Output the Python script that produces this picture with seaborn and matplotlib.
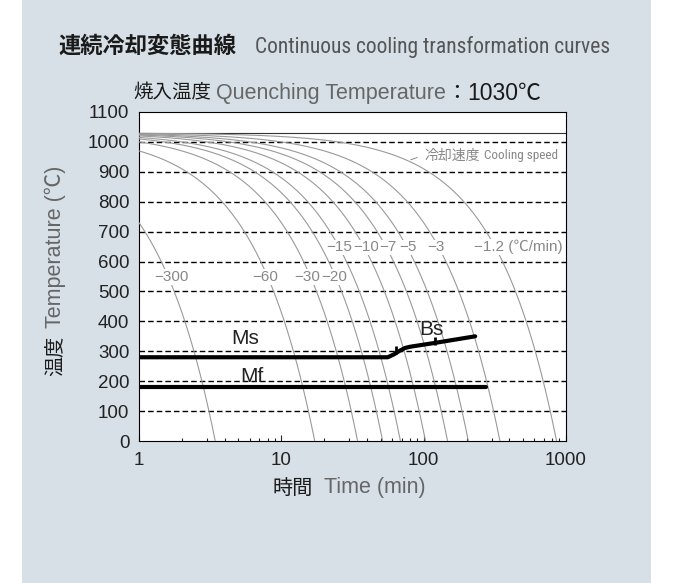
import numpy as np
import pandas as pd
import matplotlib
matplotlib.use("Agg")
import matplotlib.pyplot as plt
from matplotlib.patches import Rectangle
import seaborn as sns

# ---------------- data ----------------
quench_temp = 1030
cooling_rates = [300, 60, 30, 20, 15, 10, 7, 5, 3, 1.2]          # degC/min
rate_labels = ["−300", "−60", "−30", "−20", "−15", "−10", "−7", "−5", "−3", "−1.2 (℃/min)"]
rate_label_t = [1.70, 7.7, 15.1, 23.5, 25.6, 39.4, 55.6, 77.3, 122, 463]
rate_label_T = [548, 548, 548, 548, 648, 648, 648, 648, 648, 648]

ms_t = [1, 56, 62, 68, 74, 80, 120, 230]
ms_T = [280, 280, 290, 302, 311, 315, 328, 350]
bs_tick_t = [64, 120]
bs_tick_T = [303, 335]
mf_t = [1, 273]
mf_T = [180, 180]

y_ticks = [0, 100, 200, 300, 400, 500, 600, 700, 800, 900, 1000, 1100]
x_ticks = [1, 10, 100, 1000]
x_ticklabels = ["1", "10", "100", "1000"]

# ---------------- style ----------------
sns.set_theme(style="white")
CJK = "Noto Sans CJK JP"
LAT = "Liberation Sans"
COND = ["Roboto Condensed", "Liberation Sans Narrow", "Roboto", "DejaVu Sans"]
plt.rcParams["font.family"] = [LAT, CJK, "DejaVu Sans"]

W, H = 674, 583
fig = plt.figure(figsize=(W / 100, H / 100), dpi=100, facecolor="white")
fig.patches.append(Rectangle((22 / W, 0), (651 - 22) / W, 1, transform=fig.transFigure,
                             facecolor="#d7e0e7", edgecolor="none", zorder=-10))

ax = fig.add_axes([139 / W, 1 - 441 / H, (566 - 139) / W, (441 - 112) / H])
ax.set_facecolor("white")
ax.set_xscale("log")
ax.set_xlim(1, 1000)
ax.set_ylim(0, 1100)

# grid lines
for yv in y_ticks[1:-1]:
    ax.axhline(yv, color="black", lw=1.0, ls=(0, (4, 2.2)), zorder=1)
ax.axhline(quench_temp, color="#333333", lw=0.8, zorder=2)

# cooling curves (constant cooling rate from quench temperature)
for r in cooling_rates:
    t_end = quench_temp / r
    t = np.geomspace(1, t_end, 400)
    df = pd.DataFrame({"t": t, "T": quench_temp - r * t})
    sns.lineplot(data=df, x="t", y="T", color="#9a9a9a", lw=0.8, ax=ax,
                 estimator=None, sort=False, zorder=3)

# Ms, Mf lines
sns.lineplot(x=ms_t, y=ms_T, color="black", lw=3.0, ax=ax, estimator=None, sort=False, zorder=5)
sns.lineplot(x=mf_t, y=mf_T, color="black", lw=3.0, ax=ax, estimator=None, sort=False, zorder=5)
ax.plot(bs_tick_t, bs_tick_T, ls="none", marker="|", ms=6, mew=2.0, color="black", zorder=6)

# labels inside
ax.text(5.56, 343, "Ms", fontsize=15, color="#222222", ha="center", va="center", zorder=7)
ax.text(114, 373, "Bs", fontsize=15, color="#222222", ha="center", va="center", zorder=7)
ax.text(6.19, 214, "Mf", fontsize=15, color="#222222", ha="center", va="center", zorder=7)
for lab, tx, ty in zip(rate_labels, rate_label_t, rate_label_T):
    ax.text(tx, ty, lab, fontsize=11, color="#888888", ha="center", va="center",
            family=[LAT, CJK], zorder=7,
            bbox=dict(facecolor="white", edgecolor="none", pad=0.4))

ax.annotate("", xy=(77.7, 937), xytext=(94, 951),
            arrowprops=dict(arrowstyle="-", color="#888888", lw=0.7))

# ticks & spines
ax.set_yticks(y_ticks)
ax.set_yticklabels([str(v) for v in y_ticks])
ax.set_xticks(x_ticks)
ax.set_xticklabels(x_ticklabels)
ax.tick_params(axis="y", length=0, pad=7, labelsize=13.5, labelcolor="#222222")
ax.tick_params(axis="x", which="major", direction="in", length=4.5, width=0.8,
               pad=8, labelsize=13.5, labelcolor="#222222", bottom=True, top=False)
ax.tick_params(axis="x", which="minor", direction="in", length=2.5, width=0.8,
               bottom=True, top=False)
ax.xaxis.set_minor_locator(matplotlib.ticker.LogLocator(base=10, subs=np.arange(2, 10)))
ax.xaxis.set_minor_formatter(matplotlib.ticker.NullFormatter())
for s in ax.spines.values():
    s.set_visible(True)
    s.set_color("black")
    s.set_linewidth(0.8)
ax.set_xlabel("")
ax.set_ylabel("")

# ---------------- figure texts (pixel positions) ----------------
def fx(x):
    return x / W

def fy(y):
    return 1 - y / H

fig.text(fx(58), fy(46), "連続冷却変態曲線", family=[CJK], fontsize=16,
         fontweight="bold", color="#1a1a1a", va="center", ha="left")
fig.text(fx(255), fy(47), "Continuous cooling transformation curves", family=COND,
         fontsize=15.5, color="#555555", va="center", ha="left")

fig.text(fx(133), fy(93), "焼入温度", family=[CJK], fontsize=14, color="#1a1a1a",
         va="center", ha="left")
fig.text(fx(216), fy(93), "Quenching Temperature", family=[LAT, CJK], fontsize=15.5,
         color="#666666", va="center", ha="left")
fig.text(fx(446), fy(93), "：", family=[CJK], fontsize=15, color="#1a1a1a",
         va="center", ha="left")
fig.text(fx(467), fy(93), "1030℃", family=[LAT, CJK], fontsize=16.5, color="#1a1a1a",
         va="center", ha="left")

fig.text(fx(272), fy(488), "時間", family=[CJK], fontsize=14.5, color="#1a1a1a",
         va="center", ha="left")
fig.text(fx(324), fy(488), "Time (min)", family=[LAT, CJK], fontsize=15.5, color="#666666",
         va="center", ha="left")

fig.text(fx(55), fy(376), "温度", family=[CJK], fontsize=14.5, color="#1a1a1a",
         rotation=90, rotation_mode="anchor", va="center", ha="left")
fig.text(fx(55), fy(328), "Temperature (℃)", family=[LAT, CJK], fontsize=15.5,
         color="#666666", rotation=90, rotation_mode="anchor", va="center", ha="left")

fig.text(fx(424), fy(156), "冷却速度", family=[CJK], fontsize=10, color="#888888",
         va="center", ha="left")
fig.text(fx(484), fy(156), "Cooling speed", family=COND, fontsize=9.5, color="#888888",
         va="center", ha="left")

fig.savefig("out.png", dpi=100, facecolor="white")
